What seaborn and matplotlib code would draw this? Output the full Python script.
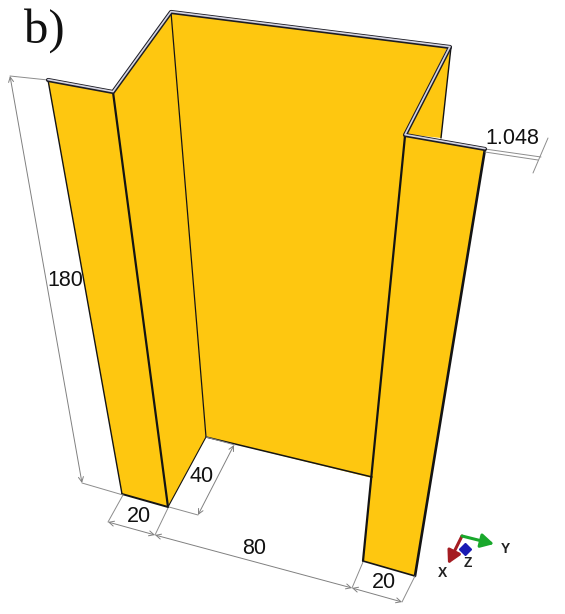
"""Эскиз C-профиля с размерами, панель b)"""

import matplotlib
matplotlib.use("Agg")
import matplotlib.pyplot as plt
import seaborn as sns

# Углы панелей, пиксели снимка
left_flange_x = [48, 113, 168, 122]
left_flange_y = [80, 92, 507, 494]
left_web_x = [113, 171, 206, 168]
left_web_y = [92, 12, 437, 507]
back_x = [171, 447, 405, 376, 206]
back_y = [12, 48, 136, 479, 437]
back_side_x = [451, 441, 405]
back_side_y = [47, 138, 134]
right_flange_x = [405, 485, 415, 363]
right_flange_y = [136, 149, 576, 561]

# Верхняя кромка листа
rim_x = [48, 113, 171, 450, 405, 485]
rim_y = [80, 92, 12, 47, 135, 149]

# Ребра: (x, y, толщина)
edges = [
    ([48, 122], [80, 494], 1.0),
    ([122, 168], [494, 507], 1.4),
    ([113, 168], [92, 507], 1.6),
    ([171, 206], [12, 437], 0.9),
    ([206, 168], [437, 507], 0.8),
    ([206, 372], [437, 477], 1.1),
    ([451, 441], [47, 138], 1.0),
    ([405, 363], [136, 561], 1.6),
    ([363, 415], [561, 576], 1.2),
    ([485, 415], [149, 576], 1.9),
]

# Выносные линии
ext_lines = [
    ([10, 48], [76, 80]),
    ([82, 123], [483, 495]),
    ([123, 108], [495, 522]),
    ([168, 155], [508, 535]),
    ([169, 198], [507, 515]),
    ([206, 235], [437, 445]),
    ([363, 352], [562, 588]),
    ([415, 402], [576, 602]),
    ([485, 541], [149, 157]),
    ([485, 538], [152, 160]),
    ([548, 533], [138, 173]),
]

# Размерные линии со стрелками
dim_starts = [(10, 76), (108, 522), (198, 515), (155, 535), (352, 588)]
dim_ends = [(82, 483), (155, 535), (234, 445), (352, 588), (402, 602)]

dim_labels = ["180", "20", "40", "80", "20", "1.048"]
dim_label_x = [65, 139, 202, 254, 384, 512]
dim_label_y = [280, 517, 477, 549, 583, 138]

# Триада осей
axis_names = ["X", "Y", "Z"]
axis_name_x = [442, 505, 468]
axis_name_y = [573, 549, 563]
axis_tips = [(448, 564), (494, 544)]
axis_colors = ["#a51c22", "#19a82c"]
triad_origin = (462, 536)
z_marker = (465, 549)

YELLOW = "#fec710"

sns.set_theme(style="white")
plt.rcParams["font.family"] = ["Liberation Sans", "DejaVu Sans"]

fig = plt.figure(figsize=(5.65, 6.14), dpi=100)
ax = fig.add_axes([0, 0, 1, 1])

panels = [
    (back_x, back_y),
    (back_side_x, back_side_y),
    (left_web_x, left_web_y),
    (left_flange_x, left_flange_y),
    (right_flange_x, right_flange_y),
]
for px, py in panels:
    ax.fill(px, py, color=YELLOW, lw=0, zorder=1)


def draw_line(xs, ys, color, lw, zorder=2):
    sns.lineplot(x=xs, y=ys, sort=False, estimator=None, color=color,
                 linewidth=lw, ax=ax, zorder=zorder)


for xs, ys, lw in edges:
    draw_line(xs, ys, "#141414", lw)

# Кромка: темная основа и светлая полоса
draw_line(rim_x, rim_y, "#1c1c24", 3.0, zorder=3)
draw_line(rim_x, [v - 0.4 for v in rim_y], "#d4d4e2", 1.2, zorder=4)

for xs, ys in ext_lines:
    draw_line(xs, ys, "#8c8c8c", 0.7, zorder=2)

for start, end in zip(dim_starts, dim_ends):
    ax.annotate("", xy=end, xytext=start, zorder=2,
                arrowprops=dict(arrowstyle="<->", color="#808080", lw=0.7,
                                shrinkA=0, shrinkB=0, mutation_scale=9))

for label, x, y in zip(dim_labels, dim_label_x, dim_label_y):
    ax.text(x, y, label, fontsize=15.5, color="#111111", ha="center", va="center", zorder=6)

ax.text(44, 31, "b)", fontsize=35, family=["Liberation Serif"], color="#111111",
        ha="center", va="center")

# Триада
for tip, col in zip(axis_tips, axis_colors):
    ax.annotate("", xy=tip, xytext=triad_origin,
                arrowprops=dict(arrowstyle="-|>,head_length=0.55,head_width=0.3",
                                color=col, lw=2.2, shrinkA=0, shrinkB=0, mutation_scale=14))
ax.plot(*z_marker, marker="D", ms=6.5, color="#1a1ab4", zorder=5)
for name, x, y in zip(axis_names, axis_name_x, axis_name_y):
    ax.text(x, y, name, fontsize=10, fontweight="bold", color="#222222", ha="center", va="center")

ax.set_xlim(0, 565)
ax.set_ylim(614, 0)
ax.axis("off")

fig.savefig("out.png", dpi=100)
